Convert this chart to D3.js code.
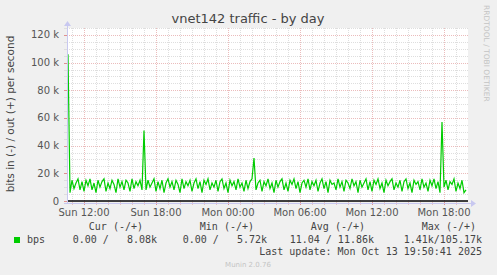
<!DOCTYPE html>
<html>
<head>
<meta charset="utf-8">
<script src="https://cdn.jsdelivr.net/npm/d3@7"></script>
<style>
  body { margin: 0; background: #f0f0f0; }
  svg { display: block; }
  text { white-space: pre; }
</style>
</head>
<body>
<svg width="497" height="275"></svg>
<script>
// traffic samples, 10 min apart, starting Sun 10:30 (values in k bits/s, "out" direction)
const startTime = new Date(2025, 9, 12, 10, 30);
const stepMinutes = 10;
const outK = [
  0, 106, 6, 15, 9, 13, 16, 8, 14, 7,
  15, 11, 16, 8, 13, 6, 15, 10, 14, 16,
  7, 13, 9, 15, 12, 6, 16, 10, 14, 8,
  15, 13, 7, 16, 9, 14, 11, 15, 8, 51,
  8, 15, 10, 13, 16, 7, 14, 9, 15, 6,
  13, 16, 10, 14, 8, 15, 12, 6, 16, 9,
  14, 11, 15, 7, 13, 16, 9, 14, 6, 15,
  12, 16, 8, 13, 10, 15, 7, 14, 16, 9,
  13, 6, 15, 11, 14, 8, 16, 10, 13, 7,
  15, 9, 14, 16, 31, 8, 13, 15, 7, 14,
  11, 16, 9, 13, 6, 15, 10, 14, 16, 8,
  13, 7, 15, 12, 16, 9, 14, 6, 13, 15,
  10, 16, 8, 14, 11, 15, 7, 13, 16, 9,
  14, 6, 15, 12, 13, 8, 16, 10, 14, 7,
  15, 13, 9, 16, 11, 14, 6, 15, 10, 13,
  16, 8, 14, 7, 15, 12, 16, 9, 13, 6,
  15, 11, 14, 16, 8, 13, 10, 15, 7, 14,
  16, 9, 13, 6, 15, 12, 14, 8, 16, 10,
  13, 7, 15, 11, 16, 9, 14, 6, 57, 10,
  15, 8, 14, 12, 16, 7, 13, 9, 15, 6,
  8
];

const yTickValues = [0, 20, 40, 60, 80, 100, 120];
const yTickLabels = ["0", "20 k", "40 k", "60 k", "80 k", "100 k", "120 k"];
const xTickTimes = [
  new Date(2025, 9, 12, 12), new Date(2025, 9, 12, 18), new Date(2025, 9, 13, 0),
  new Date(2025, 9, 13, 6), new Date(2025, 9, 13, 12), new Date(2025, 9, 13, 18)
];
const xTickLabels = ["Sun 12:00", "Sun 18:00", "Mon 00:00", "Mon 06:00", "Mon 12:00", "Mon 18:00"];

const legendHeaders = ["Cur (-/+)", "Min (-/+)", "Avg (-/+)", "Max (-/+)"];
const legendValues = ["0.00 /   8.08k", "0.00 /   5.72k", "11.04 / 11.86k", "1.41k/105.17k"];

let svg = d3.select('svg');
const pLeft = 67, pRight = 468, pTop = 28, pBottom = 201;

let x = d3.scaleTime()
  .domain([new Date(2025, 9, 12, 10, 35), new Date(2025, 9, 13, 20, 0)])
  .range([pLeft, pRight]);
let y = d3.scaleLinear()
  .domain([0, 125])
  .range([pBottom, pTop]);

let data = outK.map((v, i) => ({ t: new Date(startTime.getTime() + i * stepMinutes * 60000), v: v }));

// canvas
svg.append('rect')
  .attr('x', pLeft).attr('y', pTop)
  .attr('width', pRight - pLeft).attr('height', pBottom - pTop)
  .attr('fill', 'white');

// grid: minor
let grid = svg.append('g').attr('shape-rendering', 'crispEdges');
grid.selectAll('.hminor')
  .data(d3.range(5, 126, 5).filter(d => d % 20 != 0))
  .enter().append('line')
  .attr('x1', pLeft).attr('x2', pRight)
  .attr('y1', d => Math.round(y(d)) + 0.5).attr('y2', d => Math.round(y(d)) + 0.5)
  .attr('stroke', '#dedede').attr('stroke-dasharray', '1,1');
grid.selectAll('.vminor')
  .data(d3.timeHour.range(x.domain()[0], x.domain()[1]).filter(d => d.getHours() % 6 != 0))
  .enter().append('line')
  .attr('y1', pTop).attr('y2', pBottom)
  .attr('x1', d => Math.round(x(d)) + 0.5).attr('x2', d => Math.round(x(d)) + 0.5)
  .attr('stroke', '#dedede').attr('stroke-dasharray', '1,1');
// grid: major
grid.selectAll('.hmajor')
  .data(yTickValues.filter(d => d > 0))
  .enter().append('line')
  .attr('x1', pLeft).attr('x2', pRight)
  .attr('y1', d => Math.round(y(d)) + 0.5).attr('y2', d => Math.round(y(d)) + 0.5)
  .attr('stroke', '#ebbcbc').attr('stroke-dasharray', '1,1');
grid.selectAll('.vmajor')
  .data(xTickTimes)
  .enter().append('line')
  .attr('y1', pTop).attr('y2', pBottom)
  .attr('x1', d => Math.round(x(d)) + 0.5).attr('x2', d => Math.round(x(d)) + 0.5)
  .attr('stroke', '#ebbcbc').attr('stroke-dasharray', '1,1');

// ticks on axes
grid.selectAll('.xt')
  .data(d3.timeHour.range(x.domain()[0], x.domain()[1]))
  .enter().append('line')
  .attr('x1', d => Math.round(x(d)) + 0.5).attr('x2', d => Math.round(x(d)) + 0.5)
  .attr('y1', pBottom + 1).attr('y2', pBottom + 4)
  .attr('stroke', d => d.getHours() % 6 == 0 ? '#e09090' : '#e8c0c0');
grid.selectAll('.yt')
  .data(d3.range(0, 126, 5))
  .enter().append('line')
  .attr('x1', pLeft - 3).attr('x2', pLeft)
  .attr('y1', d => Math.round(y(d)) + 0.5).attr('y2', d => Math.round(y(d)) + 0.5)
  .attr('stroke', d => d % 20 == 0 ? '#e09090' : '#dedede');

// plot line
svg.append('clipPath').attr('id', 'clip')
  .append('rect').attr('x', pLeft).attr('y', pTop - 2).attr('width', pRight - pLeft).attr('height', pBottom - pTop + 4);

svg.append('path')
  .datum(data)
  .attr('clip-path', 'url(#clip)')
  .attr('fill', 'none')
  .attr('stroke', '#00cc00')
  .attr('stroke-width', 1.2)
  .attr('d', d3.line().x(d => x(d.t)).y(d => y(d.v)));

// zero line
svg.append('line')
  .attr('x1', pLeft).attr('x2', pRight)
  .attr('y1', y(0)).attr('y2', y(0))
  .attr('stroke', 'black').attr('stroke-width', 1.6);

// axes (lavender with arrows)
svg.append('line')
  .attr('x1', pLeft - 3).attr('x2', pRight + 3)
  .attr('y1', pBottom + 2.5).attr('y2', pBottom + 2.5)
  .attr('stroke', '#c8c8f0');
svg.append('path')
  .attr('d', `M${pRight + 3},${pBottom - 1} L${pRight + 8},${pBottom + 2.5} L${pRight + 3},${pBottom + 6} Z`)
  .attr('fill', '#c8c8f0');
svg.append('line')
  .attr('x1', pLeft + 0.5).attr('x2', pLeft + 0.5)
  .attr('y1', pBottom + 3).attr('y2', pTop - 3)
  .attr('stroke', '#c8c8f0');
svg.append('path')
  .attr('d', `M${pLeft - 3},${pTop - 2} L${pLeft + 0.5},${pTop - 7} L${pLeft + 4},${pTop - 2} Z`)
  .attr('fill', '#c8c8f0');

// y tick labels
svg.selectAll('.ylab')
  .data(yTickValues)
  .enter().append('text')
  .attr('x', 59)
  .attr('y', d => y(d) + 3.5)
  .attr('text-anchor', 'end')
  .attr('font-family', 'DejaVu Sans')
  .attr('font-size', '10px')
  .attr('fill', '#555')
  .text((d, i) => yTickLabels[i]);

// x tick labels
svg.selectAll('.xlab')
  .data(xTickTimes)
  .enter().append('text')
  .attr('x', d => x(d))
  .attr('y', 216)
  .attr('text-anchor', 'middle')
  .attr('font-family', 'DejaVu Sans')
  .attr('font-size', '10px')
  .attr('fill', '#555')
  .text((d, i) => xTickLabels[i]);

// title
svg.append('text')
  .attr('x', 248).attr('y', 23)
  .attr('text-anchor', 'middle')
  .attr('font-family', 'DejaVu Sans')
  .attr('font-size', '13px')
  .attr('fill', '#444')
  .text('vnet142 traffic - by day');

// y label
svg.append('text')
  .attr('transform', 'translate(14,114) rotate(-90)')
  .attr('text-anchor', 'middle')
  .attr('font-family', 'DejaVu Sans')
  .attr('font-size', '10.5px')
  .attr('fill', '#444')
  .text('bits in (-) / out (+) per second');

// rrdtool watermark
svg.append('text')
  .attr('transform', 'translate(484,5) rotate(90)')
  .attr('font-family', 'DejaVu Sans')
  .attr('font-size', '7.5px')
  .attr('fill', '#c4c4c4')
  .text('RRDTOOL / TOBI OETIKER');

// legend
let mono = 'DejaVu Sans Mono';
const headerEnds = [143, 254, 365, 476];
const valueEnds = [157, 267, 374, 482];
svg.selectAll('.lh')
  .data(legendHeaders)
  .enter().append('text')
  .attr('x', (d, i) => headerEnds[i]).attr('y', 230)
  .attr('text-anchor', 'end')
  .attr('font-family', mono).attr('font-size', '10px').attr('fill', '#444')
  .text(d => d);
svg.append('rect')
  .attr('x', 14).attr('y', 237).attr('width', 6).attr('height', 6)
  .attr('fill', '#00cc00');
svg.append('text')
  .attr('x', 27).attr('y', 243)
  .attr('font-family', mono).attr('font-size', '10px').attr('fill', '#444')
  .text('bps');
svg.selectAll('.lv')
  .data(legendValues)
  .enter().append('text')
  .attr('x', (d, i) => valueEnds[i]).attr('y', 243)
  .attr('text-anchor', 'end')
  .attr('font-family', mono).attr('font-size', '10px').attr('fill', '#444')
  .text(d => d);
svg.append('text')
  .attr('x', 482).attr('y', 255)
  .attr('text-anchor', 'end')
  .attr('font-family', mono).attr('font-size', '10px').attr('fill', '#444')
  .text('Last update: Mon Oct 13 19:50:41 2025');
svg.append('text')
  .attr('x', 248).attr('y', 267)
  .attr('text-anchor', 'middle')
  .attr('font-family', 'DejaVu Sans').attr('font-size', '7px').attr('fill', '#c4c4c4')
  .text('Munin 2.0.76');
</script>
</body>
</html>
